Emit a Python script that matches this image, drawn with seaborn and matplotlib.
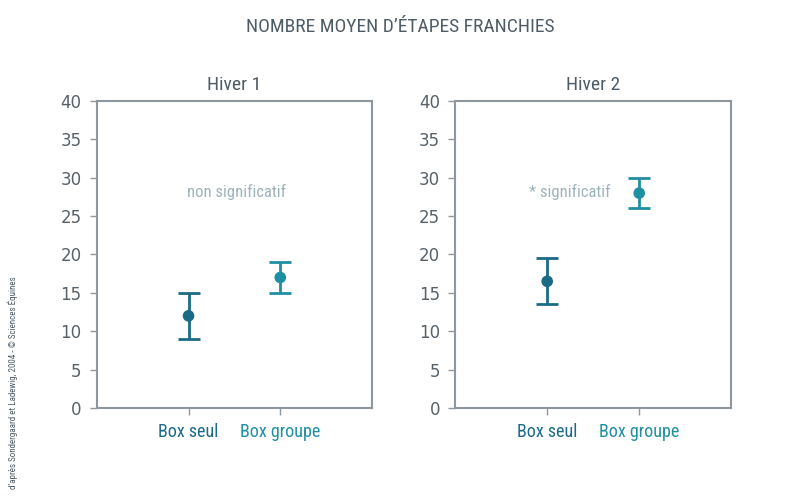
import matplotlib
matplotlib.use("Agg")
import matplotlib.pyplot as plt
import seaborn as sns
import pandas as pd
from matplotlib import font_manager

sns.set_theme(style="white")

names = {f.name for f in font_manager.fontManager.ttflist}
cond = [n for n in ["Liberation Sans Narrow", "DejaVu Sans Condensed", "Roboto Condensed", "DejaVu Sans"] if n in names]
plt.rcParams['font.family'] = ['DejaVu Sans']

# Data
panels = ["Hiver 1", "Hiver 2"]
categories = ["Box seul", "Box groupe"]
means_h1 = [12, 17]
low_h1 = [9, 15]
high_h1 = [15, 19]
means_h2 = [16.5, 28]
low_h2 = [13.5, 26]
high_h2 = [19.5, 30]
notes = ["non significatif", "* significatif"]
note_x = [1.52, 1.25]
note_y = [28.2, 28.2]
yticks = [0, 5, 10, 15, 20, 25, 30, 35, 40]

colors = {"Box seul": "#1b6a86", "Box groupe": "#1f8fa3"}
spine_c = "#8d979d"
tick_c = "#56616a"
title_c = "#4d5c66"
note_c = "#9db3ba"
cf = cond[:1] + ["DejaVu Sans"]

fig = plt.figure(figsize=(8, 4.98), dpi=100)
axes = [fig.add_axes([0.121, 0.181, 0.344, 0.616]),
        fig.add_axes([0.569, 0.181, 0.345, 0.616])]

data = [(means_h1, low_h1, high_h1), (means_h2, low_h2, high_h2)]
for ax, title, (m, lo, hi), note, nx, ny in zip(axes, panels, data, notes, note_x, note_y):
    df = pd.DataFrame({"cat": categories, "pos": [1, 2], "mean": m, "lo": lo, "hi": hi})
    for _, r in df.iterrows():
        ax.errorbar(r["pos"], r["mean"], yerr=[[r["mean"] - r["lo"]], [r["hi"] - r["mean"]]],
                    fmt="none", ecolor=colors[r["cat"]], elinewidth=2, capsize=8, capthick=2, zorder=2)
    sns.scatterplot(data=df, x="pos", y="mean", hue="cat", palette=colors, s=70,
                    edgecolor="none", legend=False, ax=ax, zorder=3)
    ax.set_xlim(0, 3)
    ax.set_ylim(0, 40)
    ax.set_yticks(yticks)
    ax.set_yticklabels([str(v) for v in yticks], fontsize=12, color=tick_c, family="DejaVu Sans")
    ax.set_xticks([1, 2])
    ax.set_xticklabels(categories, fontsize=13, family=cf)
    for lbl, c in zip(ax.get_xticklabels(), categories):
        lbl.set_color(colors[c])
    ax.set_xlabel("")
    ax.set_ylabel("")
    ax.tick_params(axis="both", which="both", length=5, width=1, color=spine_c, pad=6,
                   bottom=True, left=True)
    for s in ax.spines.values():
        s.set_color(spine_c)
        s.set_linewidth(1.5)
    ax.set_title(title, fontsize=14, color=title_c, pad=8, family=cf)
    ax.text(nx, ny, note, ha="center", va="center", fontsize=12, color=note_c, family=cf)

fig.text(0.5, 0.946, "NOMBRE MOYEN D\u2019ÉTAPES FRANCHIES", ha="center", va="center",
         fontsize=14, color=title_c, family=cf)
fig.text(0.016, 0.232, "d\u2019après Sondergaard et Ladewig, 2004 - © Sciences Équines", rotation=90,
         ha="center", va="center", fontsize=6.5, color="#4d5c66", family=cf)

fig.savefig("out.png", dpi=100)
